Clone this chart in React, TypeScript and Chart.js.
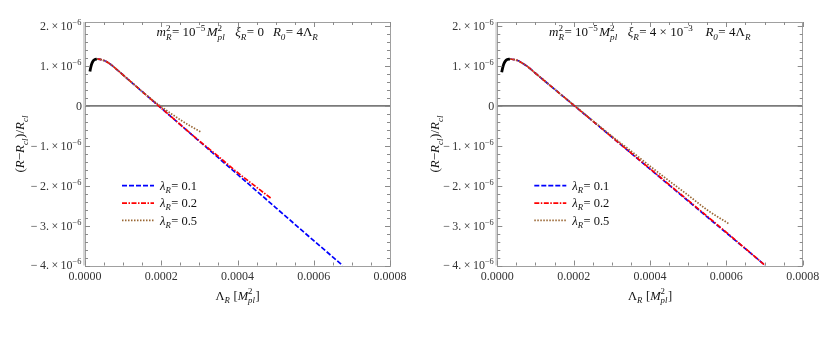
import React, { useEffect, useRef } from "react";
import { Chart, registerables } from "chart.js";

Chart.register(...registerables);

// ---------- axes ----------
const X_MIN = 0;
const X_MAX = 0.0008;
const Y_MIN = -4e-6;
const Y_MAX = 2.1e-6;
const xMajorTicks = [0, 0.0002, 0.0004, 0.0006, 0.0008];
const xTickLabels = ["0.0000", "0.0002", "0.0004", "0.0006", "0.0008"];
const X_MINOR_STEP = 0.00005;
const yMajorTicks = [2e-6, 1e-6, 0, -1e-6, -2e-6, -3e-6, -4e-6];
const TS = "\u2009";
const yTickMantissas = [
  "2." + TS + "\u00d7" + TS + "10",
  "1." + TS + "\u00d7" + TS + "10",
  "0",
  "\u2212" + TS + "1." + TS + "\u00d7" + TS + "10",
  "\u2212" + TS + "2." + TS + "\u00d7" + TS + "10",
  "\u2212" + TS + "3." + TS + "\u00d7" + TS + "10",
  "\u2212" + TS + "4." + TS + "\u00d7" + TS + "10",
];
const Y_MINOR_STEP = 0.2e-6;
const lambdaLabels = ["0.1", "0.2", "0.5"];

// ---------- left panel (xi_R = 0) ----------
const leftBlackX = [0.13e-4, 0.15e-4, 0.18e-4, 0.22e-4, 0.26e-4, 0.31e-4];
const leftBlackY = [0.86e-6, 0.96e-6, 1.06e-6, 1.13e-6, 1.16e-6, 1.17e-6];
const leftDescentX = [0.31e-4, 0.4e-4, 0.5e-4, 0.6e-4, 0.73e-4, 1.0e-4, 1.25e-4, 1.5e-4];
const leftDescentY = [1.17e-6, 1.162e-6, 1.134e-6, 1.087e-6, 0.996e-6, 0.772e-6, 0.564e-6, 0.357e-6];
const leftBlueTailX = [1.75e-4, 1.93e-4, 2.5e-4, 3.0e-4, 4.0e-4, 5.0e-4, 6.0e-4, 6.76e-4];
const leftBlueTailY = [0.149e-6, 0, -0.473e-6, -0.888e-6, -1.718e-6, -2.548e-6, -3.378e-6, -4.0e-6];
const leftRedTailX = [1.75e-4, 1.93e-4, 2.5e-4, 3.0e-4, 3.5e-4, 4.0e-4, 4.5e-4, 4.87e-4];
const leftRedTailY = [0.149e-6, 0, -0.47e-6, -0.88e-6, -1.27e-6, -1.67e-6, -2.04e-6, -2.31e-6];
const leftBrownTailX = [1.75e-4, 2.0e-4, 2.25e-4, 2.5e-4, 2.75e-4, 3.03e-4];
const leftBrownTailY = [0.16e-6, -0.02e-6, -0.19e-6, -0.35e-6, -0.5e-6, -0.65e-6];

// ---------- right panel (xi_R = 4e-3) ----------
const rightBlackX = [0.115e-4, 0.14e-4, 0.17e-4, 0.21e-4, 0.26e-4, 0.33e-4];
const rightBlackY = [0.84e-6, 0.95e-6, 1.05e-6, 1.12e-6, 1.16e-6, 1.17e-6];
const rightDescentX = [0.33e-4, 0.45e-4, 0.55e-4, 0.65e-4, 0.785e-4, 1.0e-4, 1.25e-4, 1.5e-4, 1.75e-4];
const rightDescentY = [1.17e-6, 1.157e-6, 1.127e-6, 1.074e-6, 0.988e-6, 0.816e-6, 0.616e-6, 0.416e-6, 0.216e-6];
const rightBlueTailX = [2.02e-4, 2.5e-4, 3.0e-4, 4.0e-4, 5.0e-4, 6.0e-4, 7.02e-4];
const rightBlueTailY = [0, -0.384e-6, -0.784e-6, -1.584e-6, -2.384e-6, -3.184e-6, -4.0e-6];
const rightRedTailX = [2.02e-4, 2.5e-4, 3.0e-4, 4.0e-4, 5.0e-4, 6.0e-4, 7.02e-4];
const rightRedTailY = [0, -0.38e-6, -0.78e-6, -1.575e-6, -2.37e-6, -3.17e-6, -4.0e-6];
const rightBrownTailX = [2.02e-4, 2.5e-4, 3.0e-4, 3.5e-4, 4.0e-4, 4.5e-4, 5.0e-4, 5.5e-4, 6.06e-4];
const rightBrownTailY = [0.01e-6, -0.37e-6, -0.76e-6, -1.13e-6, -1.51e-6, -1.88e-6, -2.24e-6, -2.61e-6, -2.95e-6];

// ---------- styling ----------
const FONT = '"Liberation Serif", "DejaVu Serif", serif';
const BLUE = "#0000ff";
const RED = "#ff0000";
const BROWN = "#996633";
const DASHES = [[5, 2], [5, 1.5, 1.5, 1.5], [1.5, 1.5]];
const COLORS = [BLUE, RED, BROWN];

type Seg = { t?: string; it?: boolean; sup?: string; sub?: string; supIt?: boolean; subIt?: boolean; g?: number };

function fontOf(size: number, it?: boolean) {
  return `${it ? "italic " : ""}${size}px ${FONT}`;
}

const SCRIPT = 0.7;

function segWidth(ctx: CanvasRenderingContext2D, s: Seg, size: number) {
  if (s.g !== undefined) return s.g;
  if (s.t !== undefined) {
    ctx.font = fontOf(size, s.it);
    return ctx.measureText(s.t).width;
  }
  const ss = size * SCRIPT;
  let w = 0;
  if (s.sup) {
    ctx.font = fontOf(ss, s.supIt);
    w = Math.max(w, ctx.measureText(s.sup).width);
  }
  if (s.sub) {
    ctx.font = fontOf(ss, s.subIt);
    w = Math.max(w, ctx.measureText(s.sub).width);
  }
  return w + 0.5;
}

function drawRich(ctx: CanvasRenderingContext2D, segs: Seg[], x: number, yc: number, size: number, align: "left" | "center" | "right", color: string) {
  const total = segs.reduce((a, s) => a + segWidth(ctx, s, size), 0);
  let cx = align === "left" ? x : align === "center" ? x - total / 2 : x - total;
  const base = yc + size * 0.33;
  ctx.fillStyle = color;
  ctx.textAlign = "left";
  ctx.textBaseline = "alphabetic";
  for (const s of segs) {
    const w = segWidth(ctx, s, size);
    if (s.g !== undefined) {
      // gap only
    } else if (s.t !== undefined) {
      ctx.font = fontOf(size, s.it);
      ctx.fillText(s.t, cx, base);
    } else {
      const ss = size * SCRIPT;
      if (s.sup) {
        ctx.font = fontOf(ss, s.supIt);
        ctx.fillText(s.sup, cx, base - size * 0.42);
      }
      if (s.sub) {
        ctx.font = fontOf(ss, s.subIt);
        ctx.fillText(s.sub, cx, base + size * 0.25);
      }
    }
    cx += w;
  }
}

function zip(xs: number[], ys: number[]) {
  return xs.map((x, i) => ({ x, y: ys[i] }));
}

type PanelSpec = {
  blackX: number[]; blackY: number[];
  descentX: number[]; descentY: number[];
  tails: { x: number[]; y: number[] }[];
  title: Seg[];
  axisW: number;
  padRight: number;
};

const leftTitle: Seg[] = [
  { t: "m", it: true }, { sup: "2", sub: "R", subIt: true }, { t: "= 10" }, { sup: "\u22125" }, { g: 1 },
  { t: "M", it: true }, { sup: "2", sub: "pl", subIt: true }, { g: 10 },
  { t: "\u03be", it: true }, { sub: "R", subIt: true }, { t: "= 0" }, { g: 9 },
  { t: "R", it: true }, { sub: "0", subIt: true }, { t: "= 4\u039b" }, { sub: "R", subIt: true },
];
const rightTitle: Seg[] = [
  { t: "m", it: true }, { sup: "2", sub: "R", subIt: true }, { t: "= 10" }, { sup: "\u22125" }, { g: 1 },
  { t: "M", it: true }, { sup: "2", sub: "pl", subIt: true }, { g: 10 },
  { t: "\u03be", it: true }, { sub: "R", subIt: true }, { t: "= 4 \u00d7 10" }, { sup: "\u22123" }, { g: 12 },
  { t: "R", it: true }, { sub: "0", subIt: true }, { t: "= 4\u039b" }, { sub: "R", subIt: true },
];
const xTitle: Seg[] = [{ t: "\u039b" }, { sub: "R", subIt: true }, { t: " [" }, { t: "M", it: true }, { sup: "2", sub: "pl", subIt: true }, { t: "]" }];
const yTitle: Seg[] = [
  { t: "(" }, { t: "R", it: true }, { t: "\u2212" }, { t: "R", it: true }, { sub: "cl", subIt: true },
  { t: ")/" }, { t: "R", it: true }, { sub: "cl", subIt: true },
];

function overlayPlugin(spec: PanelSpec) {
  return {
    id: "overlay",
    beforeDatasetsDraw(chart: any) {
      const { ctx, chartArea: a, scales } = chart;
      const y0 = scales.y.getPixelForValue(0);
      ctx.save();
      ctx.strokeStyle = "#7a7a7a";
      ctx.lineWidth = 1.7;
      ctx.beginPath();
      ctx.moveTo(a.left, y0);
      ctx.lineTo(a.right, y0);
      ctx.stroke();
      ctx.restore();
    },
    afterDraw(chart: any) {
      const { ctx, chartArea: a, scales } = chart;
      const xs = scales.x, ys = scales.y;
      ctx.save();
      // light band at left
      ctx.fillStyle = "#d4d4d4";
      ctx.fillRect(a.left - 2, a.top, 2, a.bottom - a.top);
      // frame
      ctx.strokeStyle = "#a0a0a0";
      ctx.lineWidth = 1;
      ctx.strokeRect(Math.round(a.left) + 0.5, Math.round(a.top) + 0.5, Math.round(a.right - a.left), Math.round(a.bottom - a.top));
      // ticks
      ctx.beginPath();
      for (let v = X_MIN; v <= X_MAX + 1e-12; v += X_MINOR_STEP) {
        const major = xMajorTicks.some((m) => Math.abs(m - v) < 1e-10);
        const len = major ? 5 : 3;
        const px = Math.round(xs.getPixelForValue(v)) + 0.5;
        ctx.moveTo(px, a.bottom); ctx.lineTo(px, a.bottom - len);
        ctx.moveTo(px, a.top); ctx.lineTo(px, a.top + len);
      }
      for (let v = Y_MIN; v <= Y_MAX + 1e-15; v += Y_MINOR_STEP) {
        const major = yMajorTicks.some((m) => Math.abs(m - v) < 1e-12);
        const len = major ? 5 : 3;
        const py = Math.round(ys.getPixelForValue(v)) + 0.5;
        ctx.moveTo(a.left, py); ctx.lineTo(a.left + len, py);
        ctx.moveTo(a.right, py); ctx.lineTo(a.right - len, py);
      }
      ctx.strokeStyle = "#8a8a8a";
      ctx.stroke();

      // x tick labels
      xMajorTicks.forEach((v, i) => {
        drawRich(ctx, [{ t: xTickLabels[i] }], xs.getPixelForValue(v), a.bottom + 11, 12, "center", "#333");
      });
      // y tick labels
      yMajorTicks.forEach((v, i) => {
        const segs: Seg[] = v === 0 ? [{ t: yTickMantissas[i] }] : [{ t: yTickMantissas[i] }, { sup: "\u22126" }];
        drawRich(ctx, segs, a.left - 3, ys.getPixelForValue(v), 12, "right", "#333");
      });
      // title
      drawRich(ctx, spec.title, (a.left + a.right) / 2, a.top + 10, 13, "center", "#111");
      // x title
      drawRich(ctx, xTitle, (a.left + a.right) / 2, a.bottom + 30, 12.5, "center", "#111");
      // y title
      ctx.save();
      ctx.translate(20, (a.top + a.bottom) / 2);
      ctx.rotate(-Math.PI / 2);
      drawRich(ctx, yTitle, 0, 0, 13, "center", "#111");
      ctx.restore();
      // legend
      const lx0 = a.left + 37;
      const y1 = ys.getPixelForValue(-2e-6);
      for (let i = 0; i < 3; i++) {
        const y = y1 + i * 17.4;
        ctx.save();
        ctx.strokeStyle = COLORS[i];
        ctx.lineWidth = 1.7;
        ctx.setLineDash(DASHES[i]);
        ctx.beginPath();
        ctx.moveTo(lx0, y);
        ctx.lineTo(lx0 + 32, y);
        ctx.stroke();
        ctx.restore();
        drawRich(ctx, [{ t: "\u03bb", it: true }, { sub: "R", subIt: true }, { t: "= " + lambdaLabels[i] }], lx0 + 38, y, 12.5, "left", "#111");
      }
      ctx.restore();
    },
  };
}

function buildConfig(spec: PanelSpec): any {
  const colored = spec.tails.map((tail, i) => ({
    data: zip(spec.descentX.concat(tail.x), spec.descentY.concat(tail.y)),
    borderColor: COLORS[i],
    borderWidth: 1.7,
    borderDash: DASHES[i],
    pointRadius: 0,
    showLine: true,
    fill: false,
    cubicInterpolationMode: "monotone",
    order: 3 - i,
  }));
  return {
    type: "scatter",
    data: {
      datasets: [
        {
          data: zip(spec.blackX, spec.blackY),
          borderColor: "#000",
          borderWidth: 2.8,
          pointRadius: 0,
          showLine: true,
          fill: false,
          cubicInterpolationMode: "monotone",
          order: 0,
        },
        ...colored,
      ],
    },
    options: {
      responsive: false,
      devicePixelRatio: 1,
      animation: false,
      events: [],
      layout: { padding: { left: 0, right: spec.padRight, top: 22, bottom: 0 } },
      plugins: { legend: { display: false }, tooltip: { enabled: false } },
      scales: {
        x: {
          type: "linear", min: X_MIN, max: X_MAX,
          grid: { display: false }, border: { display: false }, ticks: { display: false },
          afterFit: (s: any) => { s.height = 72.5; },
        },
        y: {
          type: "linear", min: Y_MIN, max: Y_MAX,
          grid: { display: false }, border: { display: false }, ticks: { display: false },
          afterFit: (s: any) => { s.width = spec.axisW; },
        },
      },
    },
    plugins: [overlayPlugin(spec)],
  };
}

const leftSpec: PanelSpec = {
  blackX: leftBlackX, blackY: leftBlackY,
  descentX: leftDescentX, descentY: leftDescentY,
  tails: [
    { x: leftBlueTailX, y: leftBlueTailY },
    { x: leftRedTailX, y: leftRedTailY },
    { x: leftBrownTailX, y: leftBrownTailY },
  ],
  title: leftTitle,
  axisW: 85,
  padRight: 25,
};

const rightSpec: PanelSpec = {
  blackX: rightBlackX, blackY: rightBlackY,
  descentX: rightDescentX, descentY: rightDescentY,
  tails: [
    { x: rightBlueTailX, y: rightBlueTailY },
    { x: rightRedTailX, y: rightRedTailY },
    { x: rightBrownTailX, y: rightBrownTailY },
  ],
  title: rightTitle,
  axisW: 82.3,
  padRight: 27.3,
};

function Panel({ spec, left }: { spec: PanelSpec; left: number }) {
  const ref = useRef<HTMLCanvasElement>(null);
  useEffect(() => {
    const chart = new Chart(ref.current as HTMLCanvasElement, buildConfig(spec));
    return () => chart.destroy();
  }, [spec]);
  return (
    <div style={{ position: "absolute", left, top: 0, width: 415, height: 338 }}>
      <canvas ref={ref} width={415} height={338} style={{ width: 415, height: 338, display: "block" }} />
    </div>
  );
}

export default function App() {
  return (
    <div style={{ position: "absolute", left: 0, top: 0, width: 830, height: 338, background: "#fff" }}>
      <Panel spec={leftSpec} left={0} />
      <Panel spec={rightSpec} left={415} />
    </div>
  );
}
